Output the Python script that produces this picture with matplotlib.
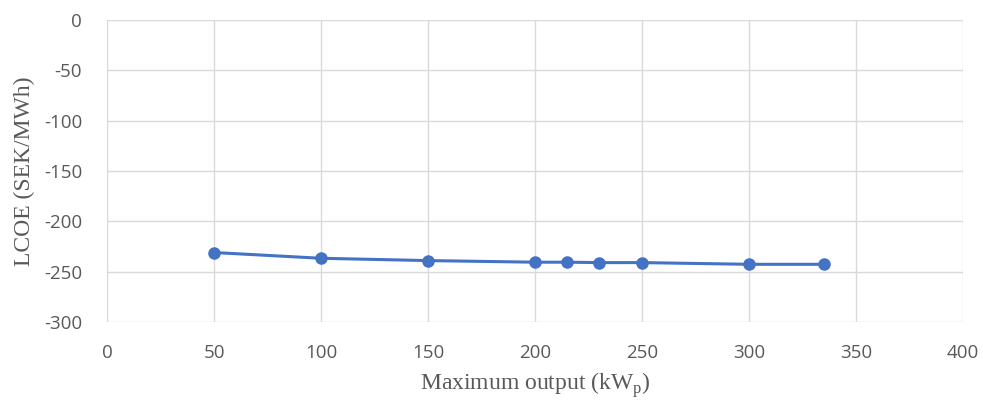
import numpy as np
import matplotlib.pyplot as plt

plt.rcParams['axes.unicode_minus'] = False

# LCOE vs maximum output
output_kwp = [50, 100, 150, 200, 215, 230, 250, 300, 335]
lcoe = [-231, -236.7, -239, -240.6, -240.6, -241, -241, -242.7, -242.7]

x_ticks = list(range(0, 401, 50))
y_ticks = list(range(-300, 1, 50))

fig = plt.figure(figsize=(9.83, 4.03), dpi=100)
ax = fig.add_axes([0.1089, 0.201, 0.8708, 0.7494])

ax.plot(output_kwp, lcoe, color='#4472C4', linewidth=2.2, marker='o',
        markersize=8, zorder=3)

ax.set_xlim(0, 400)
ax.set_ylim(-300, 0)
ax.set_xticks(x_ticks)
ax.set_yticks(y_ticks)
ax.grid(True, color='#D9D9D9', linewidth=1)
ax.set_axisbelow(True)
for s in ax.spines.values():
    s.set_visible(False)
ax.tick_params(length=0, colors='#595959', labelsize=13.5)
ax.tick_params(axis='x', pad=16)
ax.tick_params(axis='y', pad=18)
for lbl in ax.get_xticklabels() + ax.get_yticklabels():
    lbl.set_fontfamily('Open Sans')

ax.set_xlabel('Maximum output (kW$_\\mathregular{p}$)', family='Liberation Serif',
              fontsize=17, color='#595959', labelpad=6)
ax.set_ylabel('LCOE (SEK/MWh)', family='Liberation Serif', fontsize=17,
              color='#595959', labelpad=6)

fig.savefig('out.png', dpi=100)
